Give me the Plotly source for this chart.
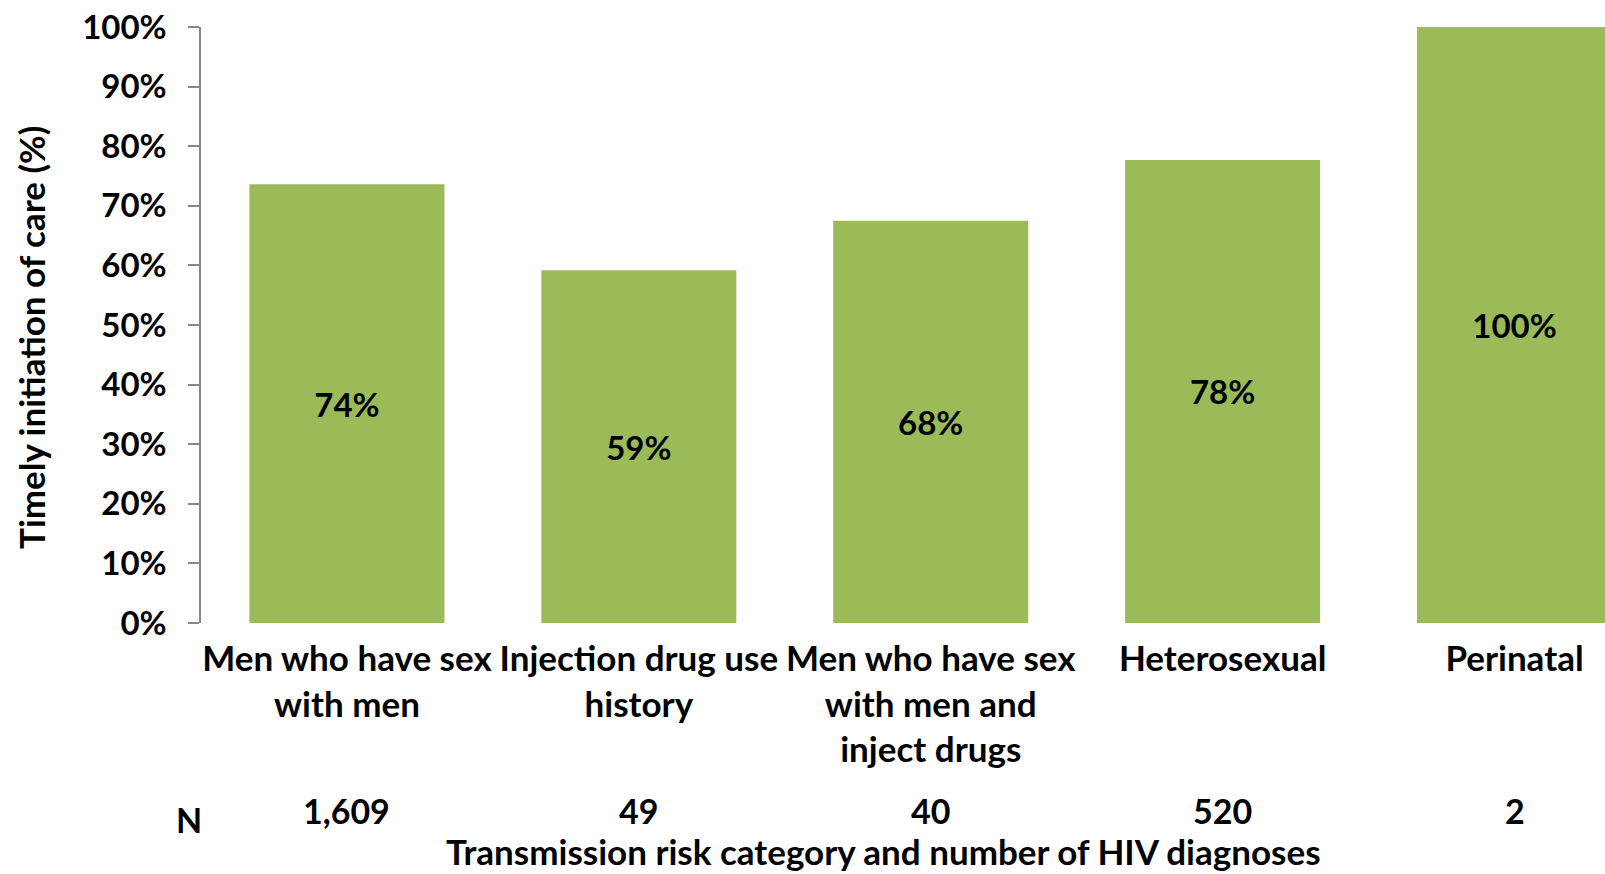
import plotly.graph_objects as go

categories = [
    "Men who have sex<br>with men",
    "Injection drug use<br>history",
    "Men who have sex<br>with men and<br>inject drugs",
    "Heterosexual",
    "Perinatal",
]
values = [73.6, 59.2, 67.5, 77.7, 100.0]
bar_labels = ["74%", "59%", "68%", "78%", "100%"]
n_diagnoses = ["1,609", "49", "40", "520", "2"]
y_ticks = list(range(0, 101, 10))
y_title = "Timely initiation of care (%)"
x_title = "Transmission risk category and number of HIV diagnoses"

FONT = "Lato"
FS_TEXT = 35
FS_NUM = 33
BAR = "#9BBB59"
AXIS = "#868686"


def f(size):
    return dict(family=FONT, size=size, color="black", weight="bold")


fig = go.Figure()
fig.add_trace(go.Bar(
    x=categories, y=values, text=bar_labels,
    marker=dict(color=BAR, line=dict(width=0)),
    width=0.668,
    textposition="inside", insidetextanchor="middle", textangle=0,
    textfont=f(FS_NUM),
    hoverinfo="skip",
))

annotations = []
for c, n in zip(categories, n_diagnoses):
    annotations.append(dict(x=c, xref="x", y=-0.3154, yref="paper", text=n,
                            showarrow=False, xanchor="center", yanchor="middle",
                            font=f(34)))
annotations.append(dict(x=-0.0085, xref="paper", y=-0.329, yref="paper", text="N",
                        showarrow=False, xanchor="center", yanchor="middle",
                        font=f(34)))
annotations.append(dict(x=0.486, xref="paper", y=-0.3826, yref="paper", text=x_title,
                        showarrow=False, xanchor="center", yanchor="middle",
                        font=f(FS_TEXT)))
annotations.append(dict(x=-0.1215, xref="paper", y=0.479, yref="paper", text=y_title,
                        textangle=-90, showarrow=False, xanchor="center", yanchor="middle",
                        font=f(FS_TEXT)))

fig.update_layout(
    width=1605, height=874,
    margin=dict(l=201, r=0, t=27, b=251, autoexpand=False),
    plot_bgcolor="white", paper_bgcolor="white",
    showlegend=False,
    font=f(FS_TEXT),
    annotations=annotations,
    xaxis=dict(
        type="category", range=[-0.5, 4.31],
        showline=False, showgrid=False, zeroline=False, ticks="",
        tickfont=f(FS_TEXT),
        ticklabelstandoff=12,
    ),
    yaxis=dict(
        range=[0, 100], tickvals=y_ticks, ticktext=[f"{v}%" for v in y_ticks],
        showline=True, linecolor=AXIS, linewidth=1.5,
        ticks="outside", ticklen=11, tickcolor=AXIS, tickwidth=1.5,
        showgrid=False, zeroline=False,
        tickfont=f(FS_NUM),
        ticklabelstandoff=15,
    ),
)

fig.write_html("out.html", config={"displayModeBar": False},
               post_script="document.body.style.margin='0';")
